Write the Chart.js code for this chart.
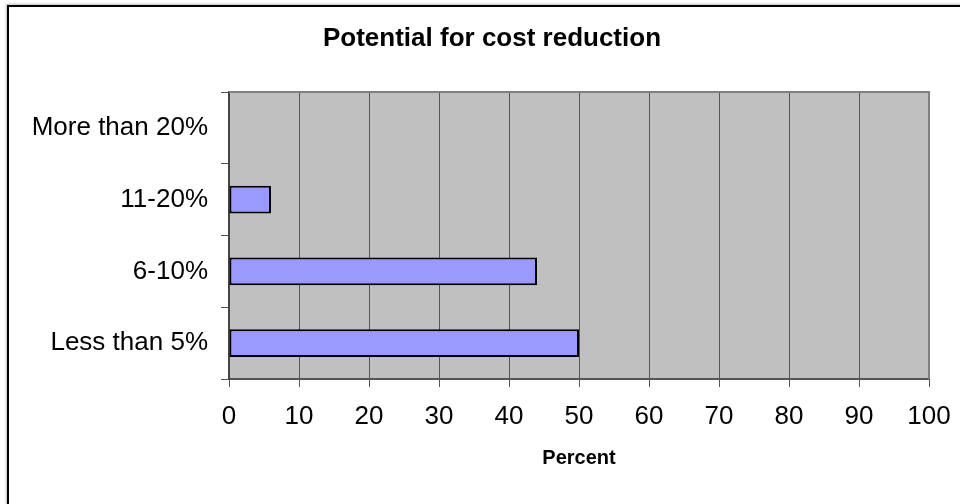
<!DOCTYPE html>
<html>
<head>
<meta charset="utf-8">
<script src="https://cdn.jsdelivr.net/npm/chart.js@4/dist/chart.umd.min.js"></script>
<style>
  html, body { margin: 0; padding: 0; background: #fff; overflow: hidden; }
  #frame { position: absolute; left: 7px; top: 5px; width: 1100px; height: 700px; border: 2px solid #000; box-shadow: -1px -1px 2px #bbb; }
  #c { position: absolute; left: 0; top: 0; }
</style>
</head>
<body>
<div id="frame"></div>
<canvas id="c" width="960" height="504"></canvas>
<script>
// дані з картинки
var categories = ['More than 20%', '11-20%', '6-10%', 'Less than 5%'];
var percentValues = [0, 6, 44, 50];
var xTicks = [0, 10, 20, 30, 40, 50, 60, 70, 80, 90, 100];

var chartTitle = 'Potential for cost reduction';
var xTitle = 'Percent';

// сірий фон області графіка + рамка зверху/справа
var plotBg = {
    id: 'plotBg',
    beforeDraw: function (chart) {
        var a = chart.chartArea, ctx = chart.ctx;
        ctx.save();
        ctx.fillStyle = '#c0c0c0';
        ctx.fillRect(a.left, a.top, a.right - a.left, a.bottom - a.top);
        ctx.restore();
    },
    afterDatasetsDraw: function (chart) {
        var a = chart.chartArea, ctx = chart.ctx;
        ctx.save();
        ctx.strokeStyle = '#808080';
        ctx.lineWidth = 2;
        ctx.beginPath();
        ctx.moveTo(a.left, a.top);
        ctx.lineTo(a.right, a.top);
        ctx.lineTo(a.right, a.bottom);
        ctx.stroke();
        ctx.restore();
    },
    afterDraw: function (chart) {
        var ctx = chart.ctx;
        ctx.save();
        ctx.fillStyle = '#000';
        ctx.font = 'bold 26px "Liberation Sans", Arial, sans-serif';
        ctx.textAlign = 'center';
        ctx.textBaseline = 'middle';
        ctx.fillText(chartTitle, 492, 39);
        ctx.restore();
    }
};

new Chart(document.getElementById('c'), {
    type: 'bar',
    data: {
        labels: categories,
        datasets: [{
            data: percentValues,
            backgroundColor: '#9999ff',
            borderColor: '#000',
            borderWidth: 2,
            borderSkipped: false,
            categoryPercentage: 1,
            barPercentage: 0.39
        }]
    },
    options: {
        indexAxis: 'y',
        responsive: false,
        animation: false,
        layout: { padding: { top: 92, right: 31, left: 0, bottom: 0 } },
        plugins: {
            legend: { display: false },
            tooltip: { enabled: false }
        },
        scales: {
            x: {
                min: 0,
                max: 100,
                afterBuildTicks: function (s) { s.ticks = xTicks.map(function (v) { return { value: v }; }); },
                afterFit: function (s) { s.height = 125; s.paddingLeft = 0; s.paddingRight = 0; },
                ticks: { color: '#000', padding: 14, font: { size: 26, family: '"Liberation Sans", Arial' } },
                grid: { color: '#555', lineWidth: 1, tickLength: 8 },
                border: { color: '#555', width: 2 },
                title: {
                    display: true,
                    text: xTitle,
                    color: '#000',
                    font: { size: 20, weight: 'bold', family: '"Liberation Sans", Arial' },
                    padding: { top: 0, bottom: 34 }
                }
            },
            y: {
                afterFit: function (s) { s.width = 229; s.paddingTop = 0; s.paddingBottom = 0; },
                ticks: { color: '#000', padding: 13, font: { size: 26, family: '"Liberation Sans", Arial' } },
                grid: { drawOnChartArea: false, color: '#555', tickLength: 8, offset: true },
                border: { color: '#444', width: 2 }
            }
        }
    },
    plugins: [plotBg]
});
</script>
</body>
</html>
